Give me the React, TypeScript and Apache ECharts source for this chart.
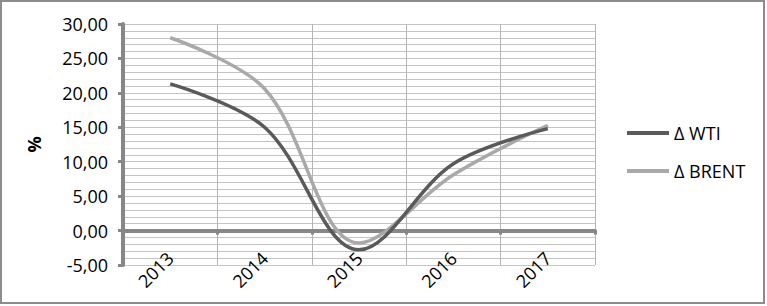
import React, { useEffect, useRef } from "react";
import * as echarts from "echarts";

const years = ["2013", "2014", "2015", "2016", "2017"];
const wti = [21.3, 15.0, -2.8, 9.7, 14.8];
const brent = [28.0, 20.6, -1.8, 8.1, 15.3];
const seriesNames = ["Δ WTI", "Δ BRENT"];
const seriesColors = ["#5a5a5a", "#a9a9a9"];

const fmt = (v: number) => v.toFixed(2).replace(".", ",");

export default function App() {
  const ref = useRef<HTMLDivElement>(null);
  useEffect(() => {
    const chart = echarts.init(ref.current!, null, { renderer: "svg" });
    const font = "'Open Sans', sans-serif";
    const axisGray = "#878787";
    chart.setOption({
      animation: false,
      backgroundColor: "#ffffff",
      textStyle: { fontFamily: font },
      grid: { left: 123, right: 172, top: 24, bottom: 41, containLabel: false },
      graphic: [
        {
          type: "rect",
          silent: true,
          shape: { x: 1, y: 1, width: 763, height: 302 },
          style: { fill: "none", stroke: "#8c8c8c", lineWidth: 2 },
        },
      ],
      legend: {
        orient: "vertical",
        left: 622,
        top: 118,
        padding: 5,
        itemWidth: 42,
        itemHeight: 4,
        itemGap: 18,
        icon: "rect",
        data: seriesNames,
        textStyle: { fontSize: 18, color: "#000", fontFamily: font, lineHeight: 20 },
      },
      xAxis: [
        {
          type: "category",
          data: years,
          boundaryGap: true,
          position: "bottom",
          axisLine: { show: true, onZero: true, lineStyle: { color: axisGray, width: 4 } },
          axisTick: { show: true, length: 4, lineStyle: { color: axisGray, width: 3 } },
          axisLabel: { show: false },
          splitLine: { show: true, lineStyle: { color: "#b4b4b4", width: 1 } },
        },
        {
          type: "category",
          data: years,
          boundaryGap: true,
          position: "bottom",
          offset: -10,
          axisLine: { show: false, onZero: false },
          axisTick: { show: false },
          axisLabel: { rotate: 45, margin: 0, fontSize: 18, color: "#000", fontFamily: font },
          splitLine: { show: false },
        },
      ],
      yAxis: {
        type: "value",
        min: -5,
        max: 30,
        interval: 5,
        name: "%",
        nameLocation: "middle",
        nameGap: 80,
        nameRotate: 90,
        nameTextStyle: { fontSize: 18, fontWeight: "bold", color: "#000", fontFamily: font },
        axisLine: { show: true, lineStyle: { color: axisGray, width: 4 } },
        axisTick: { show: true, length: 5, lineStyle: { color: axisGray, width: 3 } },
        axisLabel: { formatter: fmt, fontSize: 18, color: "#000", margin: 15, fontFamily: font },
        splitLine: { show: true, lineStyle: { color: "#c4c4c4", width: 1 } },
        minorTick: { show: false, splitNumber: 5 },
        minorSplitLine: { show: true, lineStyle: { color: "#c4c4c4", width: 1 } },
      },
      series: [
        {
          name: seriesNames[0],
          type: "line",
          data: wti,
          smooth: 0.35,
          symbol: "none",
          color: seriesColors[0],
          lineStyle: { color: seriesColors[0], width: 3.5 },
          z: 3,
        },
        {
          name: seriesNames[1],
          type: "line",
          data: brent,
          smooth: 0.35,
          symbol: "none",
          color: seriesColors[1],
          lineStyle: { color: seriesColors[1], width: 3.5 },
          z: 2,
        },
      ],
    });
    return () => chart.dispose();
  }, []);
  return (
    <div
      ref={ref}
      style={{ position: "absolute", left: 0, top: 0, width: 767, height: 306 }}
    />
  );
}
